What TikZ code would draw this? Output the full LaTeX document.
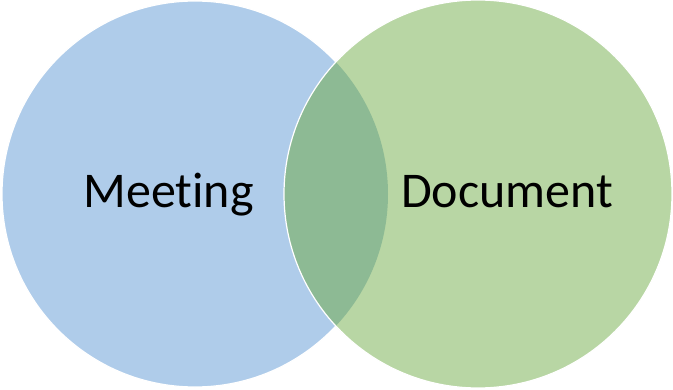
\documentclass[tikz,border=0pt]{standalone}
\usepackage{fontspec}
\setmainfont[Ligatures=NoCommon]{Carlito}
\usepackage{tikz}
\definecolor{meetblue}{HTML}{AFCCEA}
\definecolor{docgreen}{HTML}{B8D6A4}
\definecolor{overlapgreen}{HTML}{8DBA94}

\begin{document}
\begin{tikzpicture}[x=1pt,y=1pt,
		setlabel/.style={anchor=base,font=\fontsize{50}{60}\selectfont}
	]
		\useasboundingbox (0,0) rectangle (673,389);
		% the two sets
		\fill[meetblue] (195,195) circle (193);
		\draw[white,line width=1.2pt] (195,195) circle (193);
		\fill[docgreen] (478,195) circle (194);
		% shared part
		\begin{scope}
			\clip (478,195) circle (194);
			\fill[overlapgreen] (195,195) circle (193);
		\end{scope}
		\draw[white,line width=1.2pt] (478,195) circle (194);

		\node[setlabel] (meeting)  at (168.5,181) {Meeting};
		\node[setlabel] (document) at (507,181)   {Document};
	\end{tikzpicture}
\end{document}
